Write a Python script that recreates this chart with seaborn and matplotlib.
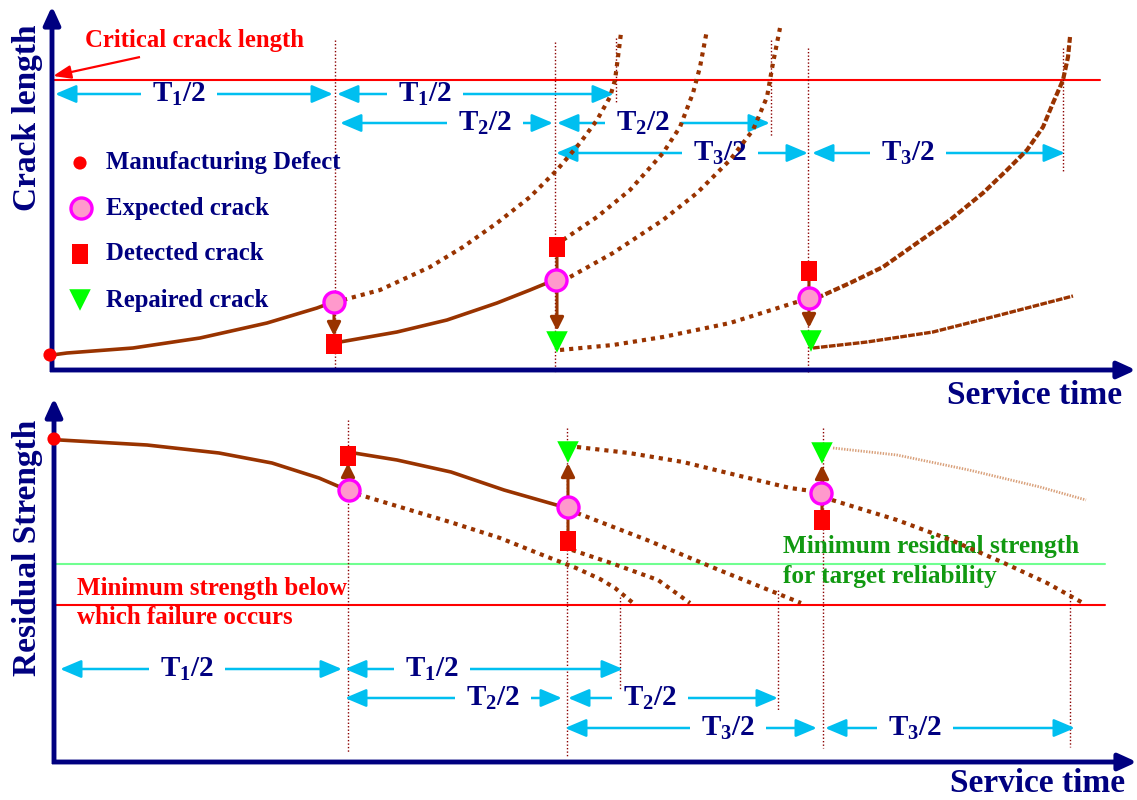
import matplotlib
matplotlib.use("Agg")
import matplotlib.pyplot as plt
import seaborn as sns

sns.set_theme(style="white")
plt.rcParams['font.family'] = ['Liberation Serif', 'DejaVu Serif']
plt.rcParams['font.weight'] = 'bold'
plt.rcParams['mathtext.fontset'] = 'custom'
plt.rcParams['mathtext.rm'] = 'Liberation Serif:bold'
plt.rcParams['mathtext.it'] = 'Liberation Serif:bold'
plt.rcParams['mathtext.bf'] = 'Liberation Serif:bold'
plt.rcParams['mathtext.default'] = 'rm'

NAVY = '#000080'
BROWN = '#993300'
CYAN = '#00BFF0'
VLINE = '#8B0000'
PINK = '#FF99CC'
MAGENTA = '#FF00FF'
RED = '#FF0000'
GREEN = '#00FF00'

# ---------------- data (schematic coordinates) ----------------
# Top panel: crack length curves
top_solid1_x = [52, 67, 133, 200, 267, 317, 333]
top_solid1_y = [355, 353, 348, 338, 323, 308, 302]
top_solid2_x = [340, 397, 447, 497, 530, 547, 556]
top_solid2_y = [342, 332, 320, 303, 290, 283, 280]
top_solid3_x = [813, 867, 933, 1000, 1073]
top_solid3_y = [348, 342, 332, 315, 296]
top_dot_a_x = [343, 380, 430, 463, 497, 530, 557, 580, 597, 610, 615, 618, 621]
top_dot_a_y = [300, 290, 267, 247, 223, 197, 170, 143, 120, 97, 80, 57, 33]
top_dot_b_x = [563, 597, 630, 663, 680, 693, 700, 707]
top_dot_b_y = [240, 217, 190, 153, 127, 93, 67, 30]
top_dot_c_x = [570, 613, 663, 697, 730, 753, 767, 773, 780]
top_dot_c_y = [277, 253, 220, 193, 160, 130, 97, 63, 28]
top_dot_d_x = [560, 613, 663, 730, 800]
top_dot_d_y = [350, 345, 337, 323, 301]
top_dash_e_x = [817, 850, 883, 917, 950, 983, 1007, 1027, 1043, 1053, 1063, 1068, 1070]
top_dash_e_y = [298, 283, 267, 243, 220, 193, 170, 150, 127, 103, 80, 57, 37]

# Bottom panel: residual strength curves
bot_solid1_x = [60, 147, 219, 272, 319, 340]
bot_solid1_y = [440, 445, 453, 463, 478, 487]
bot_solid2_x = [354, 397, 451, 504, 560]
bot_solid2_y = [453, 460, 472, 490, 506]
bot_dot_f_x = [357, 400, 450, 500, 540, 576, 600, 615, 633]
bot_dot_f_y = [494, 507, 522, 538, 554, 568, 579, 588, 603]
bot_dot_g_x = [572, 611, 658, 690]
bot_dot_g_y = [550, 563, 580, 603]
bot_dot_k_x = [577, 647, 719, 801]
bot_dot_k_y = [513, 540, 570, 603]
bot_dot_h_x = [577, 629, 683, 736, 790, 812]
bot_dot_h_y = [447, 453, 462, 475, 488, 491]
bot_dot_i_x = [832, 897, 951, 1004, 1047, 1083]
bot_dot_i_y = [500, 520, 540, 563, 583, 603]
bot_faint_j_x = [833, 897, 969, 1040, 1086]
bot_faint_j_y = [448, 455, 470, 487, 500]

# markers
defect_x = [50, 54]
defect_y = [355, 439]
expected_x = [334, 556, 809, 349, 568, 821]
expected_y = [302, 280, 298, 490, 507, 493]
detected_x = [334, 557, 809, 348, 568, 822]
detected_y = [344, 247, 271, 456, 541, 520]
repaired_x = [557, 811, 568, 822]
repaired_y = [342, 341, 452, 453]

# vertical dotted guides: x, y_top, y_bottom
guide_x = [335, 555, 808, 616, 771, 1063, 348, 567, 620, 778, 823, 1070]
guide_y0 = [40, 42, 48, 38, 40, 48, 420, 428, 597, 590, 428, 590]
guide_y1 = [370, 372, 372, 103, 137, 172, 752, 757, 690, 710, 748, 747]

# interval arrows: start, end, row y, label center, label
int_x0 = [55, 337, 340, 557, 556, 812, 60, 345, 345, 568, 565, 825]
int_x1 = [333, 614, 553, 770, 808, 1065, 342, 623, 562, 778, 817, 1075]
int_y = [94, 94, 123, 123, 153, 153, 669, 669, 698, 698, 728, 728]
int_c = [179, 425, 485, 643, 720, 908, 187, 432, 493, 650, 728, 915]
int_lab = ['T$_1$/2', 'T$_1$/2', 'T$_2$/2', 'T$_2$/2', 'T$_3$/2', 'T$_3$/2',
           'T$_1$/2', 'T$_1$/2', 'T$_2$/2', 'T$_2$/2', 'T$_3$/2', 'T$_3$/2']

legend_labels = ['Manufacturing Defect', 'Expected crack', 'Detected crack', 'Repaired crack']
legend_y = [163, 208, 254, 300]

# ---------------- figure ----------------
fig = plt.figure(figsize=(11.37, 8), dpi=100)
ax = fig.add_axes([0, 0, 1, 1])
ax.set_xlim(0, 1137)
ax.set_ylim(800, 0)
ax.axis('off')


def curve(xs, ys, **kw):
    sns.lineplot(x=xs, y=ys, sort=False, estimator=None, ax=ax, legend=False, **kw)


def arrow(p0, p1, color, lw, hl=1.0, hw=0.5, style='-|>', ms=10, z=3):
    ax.annotate('', xy=p1, xytext=p0,
                arrowprops=dict(arrowstyle=f'{style},head_length={hl},head_width={hw}',
                                color=color, lw=lw, shrinkA=0, shrinkB=0,
                                mutation_scale=ms, capstyle='butt'), zorder=z)

# axes with arrows
arrow((52, 372), (52, 6), NAVY, 3.5, 1.1, 0.5)
arrow((50, 370), (1136, 370), NAVY, 3.5, 1.1, 0.5)
arrow((54, 764), (54, 398), NAVY, 3.5, 1.1, 0.5)
arrow((52, 762), (1137, 762), NAVY, 3.5, 1.1, 0.5)

# horizontal reference lines
ax.plot([52, 1100], [80, 80], color=RED, lw=1.5, zorder=2)
ax.plot([55, 1105], [564, 564], color='#70FF90', lw=1.5, zorder=2)
ax.plot([55, 1105], [605, 605], color=RED, lw=1.5, zorder=2)

# vertical guides
for gx, g0, g1 in zip(guide_x, guide_y0, guide_y1):
    ax.plot([gx, gx], [g0, g1], color=VLINE, lw=1.0, ls=(0, (1, 1.5)), zorder=2)

# curves
solid = dict(color=BROWN, lw=2.6, zorder=4, solid_joinstyle='round', solid_capstyle='round')
dotted = dict(color=BROWN, lw=3.0, linestyle=(0, (1, 1.2)), zorder=4)
curve(top_solid1_x, top_solid1_y, **solid)
curve(top_solid2_x, top_solid2_y, **solid)
curve(top_solid3_x, top_solid3_y, color=BROWN, lw=2.4, linestyle=(0, (2, 0.4)), zorder=4)
curve(top_dot_a_x, top_dot_a_y, **dotted)
curve(top_dot_b_x, top_dot_b_y, **dotted)
curve(top_dot_c_x, top_dot_c_y, **dotted)
curve(top_dot_d_x, top_dot_d_y, **dotted)
curve(top_dash_e_x, top_dash_e_y, color=BROWN, lw=3.0, linestyle=(0, (1.6, 0.6)), zorder=4)
curve(bot_solid1_x, bot_solid1_y, **solid)
curve(bot_solid2_x, bot_solid2_y, **solid)
curve(bot_dot_f_x, bot_dot_f_y, **dotted)
curve(bot_dot_g_x, bot_dot_g_y, **dotted)
curve(bot_dot_k_x, bot_dot_k_y, **dotted)
curve(bot_dot_h_x, bot_dot_h_y, **dotted)
curve(bot_dot_i_x, bot_dot_i_y, **dotted)
curve(bot_faint_j_x, bot_faint_j_y, color='#D9A07A', lw=2.0, linestyle=(0, (0.5, 0.5)), zorder=4)

# short brown arrows (inspection/repair jumps)
arrow((334, 312), (334, 336), BROWN, 2.2, 0.9, 0.45, ms=9, z=5)
arrow((557, 255), (557, 331), BROWN, 2.2, 0.9, 0.45, ms=9, z=5)
arrow((809, 279), (809, 328), BROWN, 2.2, 0.9, 0.45, ms=9, z=5)
arrow((348, 482), (348, 463), BROWN, 2.2, 0.9, 0.45, ms=9, z=5)
arrow((568, 533), (568, 463), BROWN, 2.2, 0.9, 0.45, ms=9, z=5)
arrow((822, 512), (822, 465), BROWN, 2.2, 0.9, 0.45, ms=9, z=5)

# markers
rect = [(-0.4, -0.5), (0.4, -0.5), (0.4, 0.5), (-0.4, 0.5), (-0.4, -0.5)]
SD, SE, SQ, SR = 90, 230, 190, 240
sns.scatterplot(x=defect_x, y=defect_y, color=RED, s=SD, edgecolor='none', ax=ax, zorder=6, legend=False)
sns.scatterplot(x=expected_x, y=expected_y, color=PINK, s=SE, edgecolor=MAGENTA, linewidth=2.4,
                ax=ax, zorder=7, legend=False)
sns.scatterplot(x=detected_x, y=detected_y, color=RED, marker=rect, s=SQ, edgecolor='none',
                ax=ax, zorder=6, legend=False)
sns.scatterplot(x=repaired_x, y=repaired_y, color=GREEN, marker='v', s=SR, edgecolor='none',
                ax=ax, zorder=6, legend=False)

# legend (manual, as in the reference)
sns.scatterplot(x=[80], y=[legend_y[0]], color=RED, s=SD, edgecolor='none', ax=ax, legend=False)
sns.scatterplot(x=[81], y=[legend_y[1]], color=PINK, s=SE, edgecolor=MAGENTA, linewidth=2.4, ax=ax, legend=False)
sns.scatterplot(x=[80], y=[legend_y[2]], color=RED, marker=rect, s=SQ, edgecolor='none', ax=ax, legend=False)
sns.scatterplot(x=[80], y=[legend_y[3]], color=GREEN, marker='v', s=SR, edgecolor='none', ax=ax, legend=False)
for lab, ly in zip(legend_labels, legend_y):
    ax.text(106, ly, lab, color=NAVY, fontsize=17.8, fontweight='bold', va='center', ha='left')

# interval arrows
GAP = 38
for x0, x1, y, c, lab in zip(int_x0, int_x1, int_y, int_c, int_lab):
    arrow((c - GAP, y), (x0, y), CYAN, 1.8, 1.3, 0.55, ms=10)
    arrow((c + GAP, y), (x1, y), CYAN, 1.8, 1.3, 0.55, ms=10)
    ax.text(c, y, lab, color=NAVY, fontsize=21, fontweight='bold', ha='center', va='center')

# titles and annotations
ax.text(28, 118, 'Crack length', rotation=90, color=NAVY, fontsize=24, fontweight='bold',
        ha='center', va='center')
ax.text(28, 548, 'Residual Strength', rotation=90, color=NAVY, fontsize=24, fontweight='bold',
        ha='center', va='center')
ax.text(1122, 396, 'Service time', color=NAVY, fontsize=24, fontweight='bold', ha='right', va='center')
ax.text(1125, 784, 'Service time', color=NAVY, fontsize=24, fontweight='bold', ha='right', va='center')

ax.text(85, 40, 'Critical crack length', color=RED, fontsize=17.8, fontweight='bold', ha='left', va='center')
arrow((140, 57), (53, 76), RED, 1.6, 1.2, 0.45, ms=9)
ax.text(77, 588, 'Minimum strength below', color=RED, fontsize=18, fontweight='bold', ha='left', va='center')
ax.text(77, 618, 'which failure occurs', color=RED, fontsize=18, fontweight='bold', ha='left', va='center')
ax.text(783, 547, 'Minimum residual strength', color='#119911', fontsize=18.2, fontweight='bold', ha='left', va='center')
ax.text(783, 577, 'for target reliability', color='#119911', fontsize=18.2, fontweight='bold', ha='left', va='center')

fig.savefig('out.png', dpi=100, facecolor='white')
